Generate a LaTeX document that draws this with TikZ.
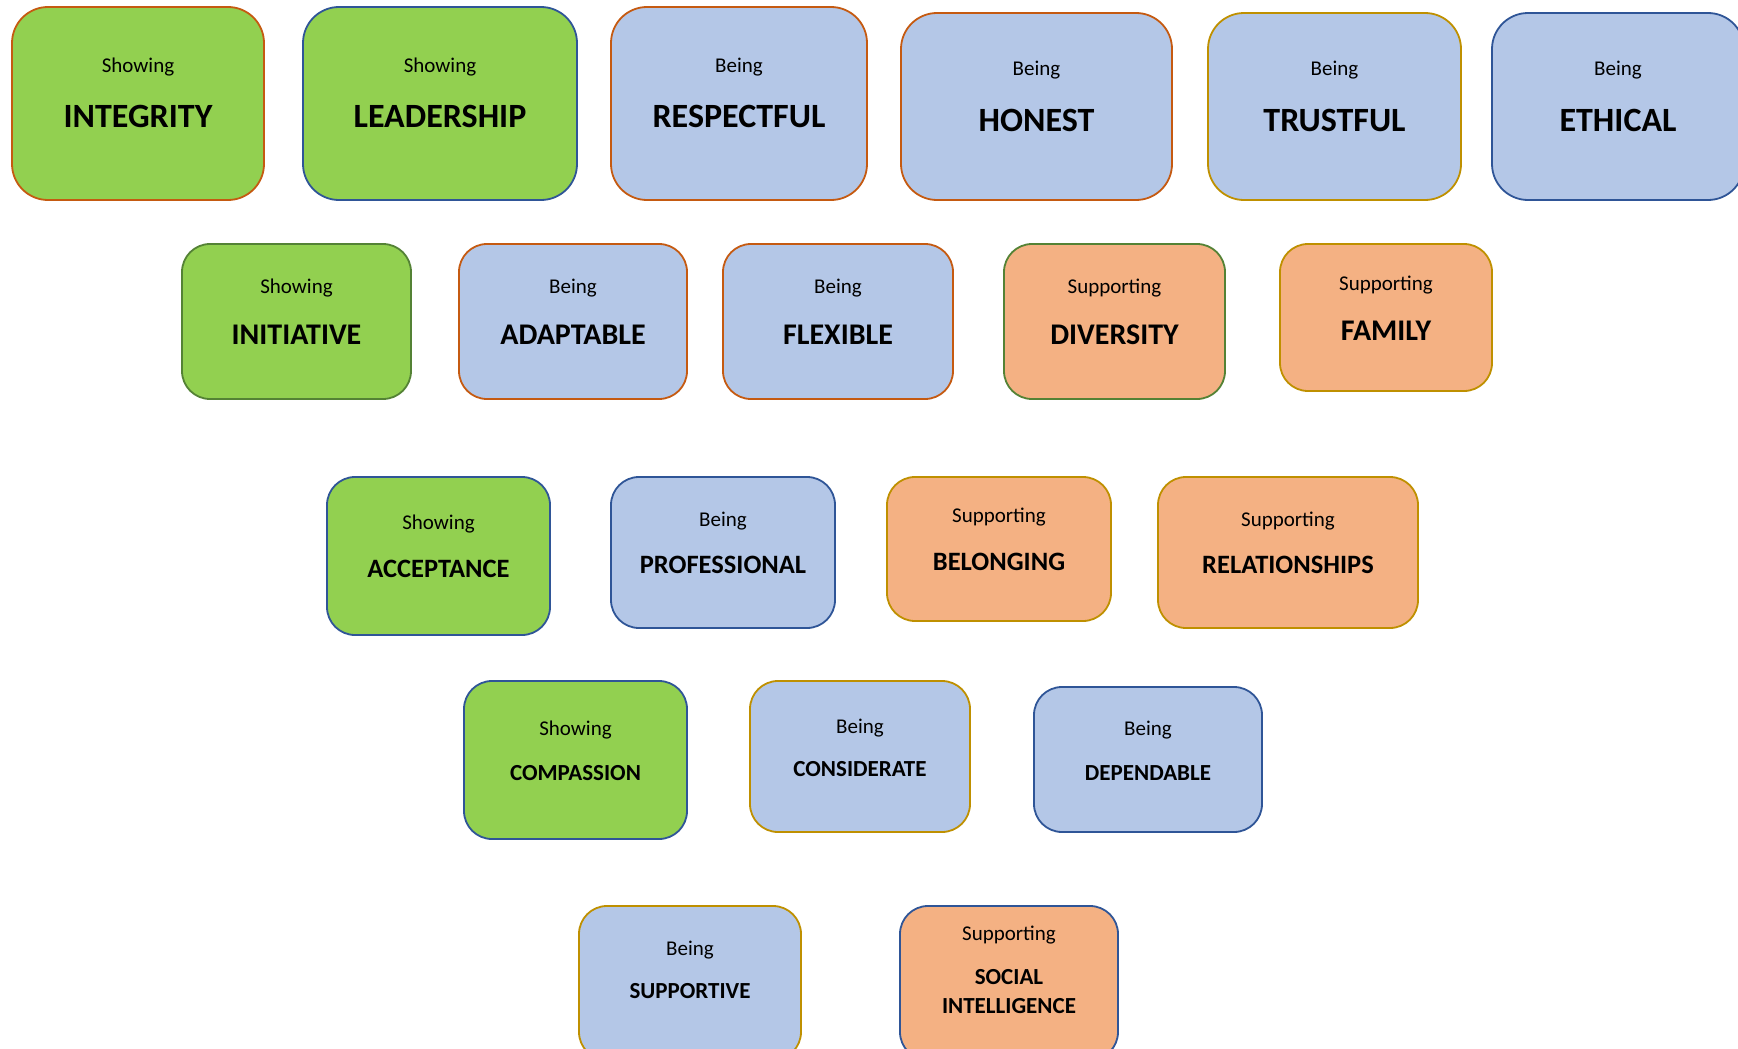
\documentclass[tikz,border=0pt]{standalone}
\usepackage{fontspec}
\setmainfont{Carlito}
\definecolor{fgreen}{HTML}{92D050}
\definecolor{fblue}{HTML}{B4C7E7}
\definecolor{forange}{HTML}{F4B183}
\definecolor{lbrown}{HTML}{C55A11}
\definecolor{lblue}{HTML}{2F5597}
\definecolor{lgold}{HTML}{BF9000}
\definecolor{lgreen}{HTML}{548235}
\tikzset{
  card/.style={rectangle, rounded corners=28pt, line width=1.8pt, inner sep=0pt},
  bigcard/.style={card, rounded corners=36pt},
  gcard/.style={fill=fgreen},
  bcard/.style={fill=fblue},
  ocard/.style={fill=forange},
  txt/.style={inner sep=0pt, anchor=center, text=black},
  smalltxt/.style={txt, font=\fontsize{21}{25}\selectfont, yshift=-2pt},
  bigA/.style={txt, font=\fontsize{34}{40}\selectfont\bfseries},
  bigB/.style={txt, font=\fontsize{30}{36}\selectfont\bfseries},
  bigC/.style={txt, font=\fontsize{26.5}{32}\selectfont\bfseries},
  bigD/.style={txt, font=\fontsize{23}{28}\selectfont\bfseries}
}
\begin{document}
\begin{tikzpicture}[x=1pt,y=-1pt]
\useasboundingbox (0,0) rectangle (1738,1049);
\clip (0,0) rectangle (1738,1049);
\fill[white] (0,0) rectangle (1738,1049);
% Row 1
\node[bigcard,gcard,draw=lbrown,minimum width=252pt,minimum height=193pt] (integ) at (138,103.5) {};
\node[smalltxt] (integ-a) at (138,65) {Showing};
\node[bigA] (integ-b) at (138,116) {INTEGRITY};
\node[bigcard,gcard,draw=lblue,minimum width=274pt,minimum height=193pt] (lead) at (440,103.5) {};
\node[smalltxt] (lead-a) at (440,65) {Showing};
\node[bigA] (lead-b) at (440,116) {LEADERSHIP};
\node[bigcard,bcard,draw=lbrown,minimum width=256pt,minimum height=193pt] (resp) at (739,103.5) {};
\node[smalltxt] (resp-a) at (739,65) {Being};
\node[bigA] (resp-b) at (739,116) {RESPECTFUL};
\node[bigcard,bcard,draw=lbrown,minimum width=271pt,minimum height=187pt] (hon) at (1036.5,106.5) {};
\node[smalltxt] (hon-a) at (1036.5,68) {Being};
\node[bigA] (hon-b) at (1036.5,120) {HONEST};
\node[bigcard,bcard,draw=lgold,minimum width=253pt,minimum height=187pt] (trust) at (1334.5,106.5) {};
\node[smalltxt] (trust-a) at (1334.5,68) {Being};
\node[bigA] (trust-b) at (1334.5,120) {TRUSTFUL};
\node[bigcard,bcard,draw=lblue,minimum width=252pt,minimum height=187pt] (eth) at (1618,106.5) {};
\node[smalltxt] (eth-a) at (1618,68) {Being};
\node[bigA] (eth-b) at (1618,120) {ETHICAL};
% Row 2
\node[card,gcard,draw=lgreen,minimum width=229pt,minimum height=155pt] (init) at (296.5,321.5) {};
\node[smalltxt] (init-a) at (296.5,286) {Showing};
\node[bigB] (init-b) at (296.5,335) {INITIATIVE};
\node[card,bcard,draw=lbrown,minimum width=228pt,minimum height=155pt] (adapt) at (573,321.5) {};
\node[smalltxt] (adapt-a) at (573,286) {Being};
\node[bigB] (adapt-b) at (573,335) {ADAPTABLE};
\node[card,bcard,draw=lbrown,minimum width=230pt,minimum height=155pt] (flex) at (838,321.5) {};
\node[smalltxt] (flex-a) at (838,286) {Being};
\node[bigB] (flex-b) at (838,335) {FLEXIBLE};
\node[card,ocard,draw=lgreen,minimum width=221pt,minimum height=155pt] (div) at (1114.5,321.5) {};
\node[smalltxt] (div-a) at (1114.5,286) {Supporting};
\node[bigB] (div-b) at (1114.5,335) {DIVERSITY};
\node[card,ocard,draw=lgold,minimum width=212pt,minimum height=147pt] (fam) at (1386,317.5) {};
\node[smalltxt] (fam-a) at (1386,283) {Supporting};
\node[bigB] (fam-b) at (1386,331) {FAMILY};
% Row 3
\node[card,gcard,draw=lblue,minimum width=223pt,minimum height=158pt] (acc) at (438.5,556) {};
\node[smalltxt] (acc-a) at (438.5,522) {Showing};
\node[bigC] (acc-b) at (438.5,569) {ACCEPTANCE};
\node[card,bcard,draw=lblue,minimum width=224pt,minimum height=151pt] (prof) at (723,552.5) {};
\node[smalltxt] (prof-a) at (723,519) {Being};
\node[bigC] (prof-b) at (723,565) {PROFESSIONAL};
\node[card,ocard,draw=lgold,minimum width=224pt,minimum height=144pt] (bel) at (999,549) {};
\node[smalltxt] (bel-a) at (999,515) {Supporting};
\node[bigC] (bel-b) at (999,562) {BELONGING};
\node[card,ocard,draw=lgold,minimum width=260pt,minimum height=151pt] (rel) at (1288,552.5) {};
\node[smalltxt] (rel-a) at (1288,519) {Supporting};
\node[bigC] (rel-b) at (1288,565) {RELATIONSHIPS};
% Row 4
\node[card,gcard,draw=lblue,minimum width=223pt,minimum height=158pt] (comp) at (575.5,760) {};
\node[smalltxt] (comp-a) at (575.5,728) {Showing};
\node[bigD] (comp-b) at (575.5,773) {COMPASSION};
\node[card,bcard,draw=lgold,minimum width=220pt,minimum height=151pt] (cons) at (860,756.5) {};
\node[smalltxt] (cons-a) at (860,726) {Being};
\node[bigD] (cons-b) at (860,769) {CONSIDERATE};
\node[card,bcard,draw=lblue,minimum width=228pt,minimum height=145pt] (dep) at (1148,759.5) {};
\node[smalltxt] (dep-a) at (1148,728) {Being};
\node[bigD] (dep-b) at (1148,773) {DEPENDABLE};
% Row 5
\node[card,bcard,draw=lgold,minimum width=222pt,minimum height=154pt] (supp) at (690,983) {};
\node[smalltxt] (supp-a) at (690,948) {Being};
\node[bigD] (supp-b) at (690,991) {SUPPORTIVE};
\node[card,ocard,draw=lblue,minimum width=218pt,minimum height=154pt] (soc) at (1009,983) {};
\node[smalltxt] (soc-a) at (1009,933) {Supporting};
\node[bigD] (soc-b) at (1009,977) {SOCIAL};
\node[bigD] (soc-c) at (1009,1006) {INTELLIGENCE};
\end{tikzpicture}
\end{document}
